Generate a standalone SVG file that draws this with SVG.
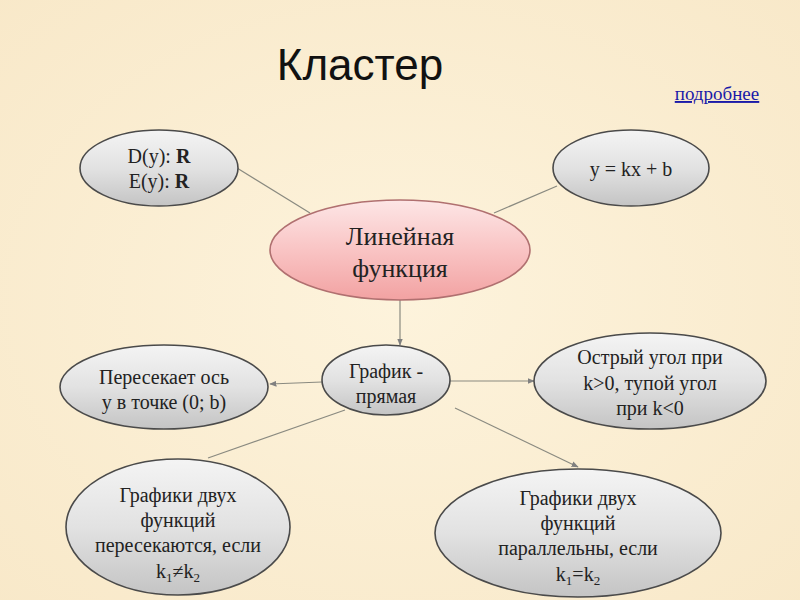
<svg xmlns="http://www.w3.org/2000/svg" width="800" height="600" viewBox="0 0 800 600">
<defs>
<radialGradient id="bg" cx="50%" cy="50%" r="75%">
<stop offset="0" stop-color="#fdf3dc"/>
<stop offset="1" stop-color="#f8e8c8"/>
</radialGradient>
<linearGradient id="grey" x1="0" y1="0" x2="0" y2="1">
<stop offset="0" stop-color="#f4f4f4"/>
<stop offset="0.5" stop-color="#e2e2e2"/>
<stop offset="1" stop-color="#c4c4c4"/>
</linearGradient>
<linearGradient id="pink" x1="0" y1="0" x2="0" y2="1">
<stop offset="0" stop-color="#fde6e6"/>
<stop offset="0.5" stop-color="#f9c4c4"/>
<stop offset="1" stop-color="#f2a2a2"/>
</linearGradient>
<marker id="arr" viewBox="0 0 10 10" refX="9" refY="5" markerWidth="6" markerHeight="6" orient="auto">
<path d="M0,1 L10,5 L0,9 z" fill="#808080"/>
</marker>
<style>
.n{fill:url(#grey);stroke:#4a4a4a;stroke-width:1.6}
.p{fill:url(#pink);stroke:#b07070;stroke-width:1.6}
.t{font-family:"Liberation Serif","Times New Roman",serif;font-size:20px;fill:#222;text-anchor:middle}
.big{font-size:26px}
.s{font-size:13px}
.c{stroke:#8a8a80;stroke-width:1.2;fill:none}
</style>
</defs>
<rect width="800" height="600" fill="url(#bg)"/>
<text x="360" y="80" font-family="Liberation Sans, Arial, sans-serif" font-size="44" fill="#111" text-anchor="middle">Кластер</text>
<text x="717" y="100" font-family="Liberation Serif, serif" font-size="19" fill="#1a1aa8" text-anchor="middle" text-decoration="underline">подробнее</text>
<g id="connectors">
<line class="c" x1="237" y1="168" x2="310" y2="213"/>
<line class="c" x1="557" y1="186" x2="494" y2="213"/>
<line class="c" x1="400" y1="300" x2="400" y2="345" marker-end="url(#arr)"/>
<line class="c" x1="322" y1="382" x2="270" y2="384" marker-end="url(#arr)"/>
<line class="c" x1="450" y1="381" x2="534" y2="381" marker-end="url(#arr)"/>
<line class="c" x1="345" y1="410" x2="208" y2="458"/>
<line class="c" x1="455" y1="408" x2="578" y2="467" marker-end="url(#arr)"/>
</g>
<g id="domain">
<ellipse class="n" cx="159" cy="168" rx="79" ry="38"/>
<text class="t" x="159" y="163">D(y): <tspan font-weight="bold">R</tspan></text>
<text class="t" x="159" y="188">E(y): <tspan font-weight="bold">R</tspan></text>
</g>
<g id="formula">
<ellipse class="n" cx="631" cy="168" rx="78" ry="38"/>
<text class="t" x="631" y="176">y = kx + b</text>
</g>
<g id="linear">
<ellipse class="p" cx="400" cy="250" rx="130" ry="50"/>
<text class="t big" x="400" y="245">Линейная</text>
<text class="t big" x="400" y="277">функция</text>
</g>
<g id="graph">
<ellipse class="n" cx="386" cy="380" rx="64" ry="35"/>
<text class="t" x="386" y="378">График -</text>
<text class="t" x="386" y="403">прямая</text>
</g>
<g id="intersects-axis">
<ellipse class="n" cx="164" cy="387" rx="104" ry="42"/>
<text class="t" x="164" y="384">Пересекает ось</text>
<text class="t" x="164" y="409">у в точке (0; b)</text>
</g>
<g id="angle">
<ellipse class="n" cx="650" cy="381" rx="116" ry="48"/>
<text class="t" x="650" y="364">Острый угол при</text>
<text class="t" x="650" y="390">k&gt;0, тупой угол</text>
<text class="t" x="650" y="415">при k&lt;0</text>
</g>
<g id="intersect">
<ellipse class="n" cx="178" cy="527" rx="112" ry="68"/>
<text class="t" x="178" y="502">Графики двух</text>
<text class="t" x="178" y="527">функций</text>
<text class="t" x="178" y="552">пересекаются, если</text>
<text class="t" x="178" y="578">k<tspan class="s" dy="4">1</tspan><tspan dy="-4">≠k</tspan><tspan class="s" dy="4">2</tspan></text>
</g>
<g id="parallel">
<ellipse class="n" cx="578" cy="533" rx="143" ry="64"/>
<text class="t" x="578" y="505">Графики двух</text>
<text class="t" x="578" y="530">функций</text>
<text class="t" x="578" y="555">параллельны, если</text>
<text class="t" x="578" y="581">k<tspan class="s" dy="4">1</tspan><tspan dy="-4">=k</tspan><tspan class="s" dy="4">2</tspan></text>
</g>
</svg>
